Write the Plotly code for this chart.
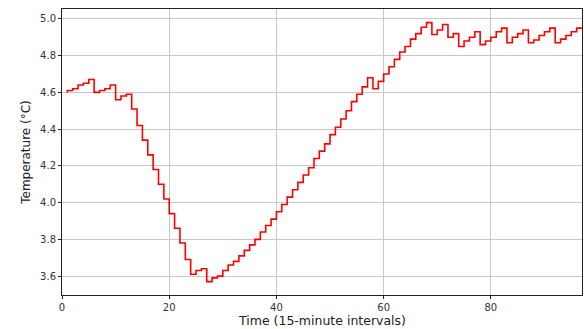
import plotly.graph_objects as go

# Temperature readings, one per 15-minute interval
intervals = list(range(1, 98))
temperature = [
    4.60, 4.61, 4.62, 4.64, 4.65, 4.67, 4.60, 4.61, 4.62, 4.64,
    4.56, 4.58, 4.59, 4.51, 4.42, 4.34, 4.26, 4.18, 4.10, 4.02,
    3.94, 3.86, 3.78, 3.69, 3.61, 3.63, 3.64, 3.57, 3.59, 3.60,
    3.63, 3.66, 3.68, 3.71, 3.74, 3.77, 3.80, 3.84, 3.875, 3.91,
    3.95, 3.99, 4.03, 4.07, 4.11, 4.15, 4.19, 4.24, 4.28, 4.32,
    4.37, 4.41, 4.455, 4.50, 4.55, 4.59, 4.63, 4.68, 4.62, 4.66,
    4.70, 4.74, 4.78, 4.82, 4.85, 4.89, 4.92, 4.955, 4.98, 4.915,
    4.94, 4.97, 4.90, 4.92, 4.85, 4.88, 4.90, 4.93, 4.86, 4.88,
    4.90, 4.93, 4.95, 4.87, 4.90, 4.92, 4.94, 4.87, 4.885, 4.91,
    4.93, 4.95, 4.87, 4.89, 4.91, 4.93, 4.95,
]

x_ticks = [0, 20, 40, 60, 80]
y_ticks = [3.6, 3.8, 4.0, 4.2, 4.4, 4.6, 4.8, 5.0]
y_tick_labels = [f"{v:.1f}" for v in y_ticks]

fig = go.Figure(
    go.Scatter(
        x=intervals,
        y=temperature,
        mode="lines",
        line=dict(color="#ff0000", width=1.6, shape="vh"),
        hoverinfo="x+y",
    )
)

axis_common = dict(
    showline=True,
    mirror=True,
    linecolor="#222222",
    linewidth=1,
    ticks="outside",
    ticklen=3,
    tickwidth=1,
    tickcolor="#222222",
    showgrid=True,
    gridcolor="#c8c8c8",
    gridwidth=1,
    zeroline=False,
    tickfont=dict(family="DejaVu Sans", size=10, color="#333333"),
)

fig.update_layout(
    width=584,
    height=329,
    margin=dict(l=62, r=2, t=9, b=34),
    paper_bgcolor="white",
    plot_bgcolor="white",
    showlegend=False,
    xaxis=dict(
        range=[0, 97],
        tickvals=x_ticks,
        automargin=False,
        **axis_common,
    ),
    yaxis=dict(
        range=[3.497, 5.054],
        tickvals=y_ticks,
        ticktext=y_tick_labels,
        title=dict(
            text="Temperature (°C)",
            font=dict(family="DejaVu Sans", size=12, color="#222222"),
            standoff=6,
        ),
        automargin=False,
        **axis_common,
    ),
    annotations=[
        dict(
            text="Time (15-minute intervals)",
            xref="paper",
            yref="paper",
            x=0.5,
            y=0,
            yshift=-25,
            xanchor="center",
            yanchor="middle",
            showarrow=False,
            font=dict(family="DejaVu Sans", size=12.5, color="#222222"),
        )
    ],
)

fig.write_html("out.html")
